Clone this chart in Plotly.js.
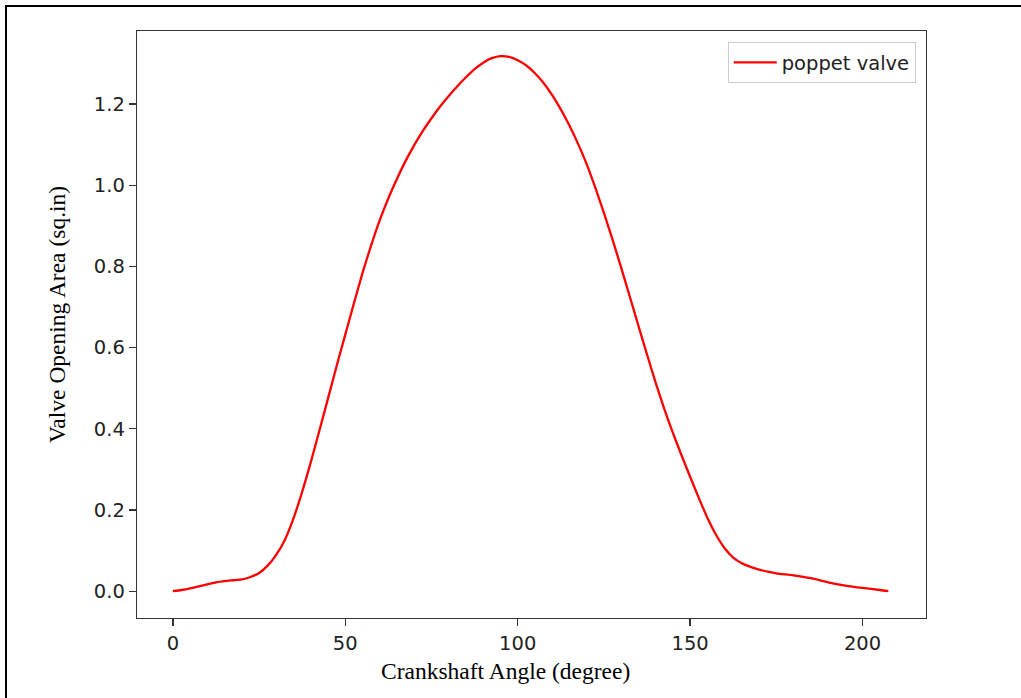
<!DOCTYPE html>
<html>
<head>
<meta charset="utf-8">
<script src="https://cdn.plot.ly/plotly-3.0.1.min.js"></script>
<style>
  html, body { margin: 0; padding: 0; background: #fff; overflow: hidden; }
  #frame { position: absolute; left: 5px; top: 5px; width: 2000px; height: 2000px; border: 2px solid #000; box-sizing: border-box; }
  #chart { position: absolute; left: 0; top: 0; width: 1021px; height: 698px; }
</style>
</head>
<body>
<div id="frame"></div>
<div id="chart"></div>
<script>
// Crankshaft angle (degree)
const crankAngle = [0, 2.5, 5, 7.5, 10, 12.5, 15, 17.5, 20, 22.5, 25, 27.5, 30, 32.5, 35, 37.5, 40, 42.5, 45, 47.5, 50, 52.5, 55, 57.5, 60, 62.5, 65, 67.5, 70, 72.5, 75, 77.5, 80, 82.5, 85, 87.5, 90, 92.5, 95, 97.5, 100, 102.5, 105, 107.5, 110, 112.5, 115, 117.5, 120, 122.5, 125, 127.5, 130, 132.5, 135, 137.5, 140, 142.5, 145, 147.5, 150, 152.5, 155, 157.5, 160, 162.5, 165, 167.5, 170, 172.5, 175, 180, 185, 190, 195, 200, 205, 207.5];
// Valve opening area (sq.in)
const valveArea = [0, 0.003, 0.007, 0.012, 0.017, 0.022, 0.025, 0.027, 0.029, 0.035, 0.045, 0.063, 0.090, 0.127, 0.180, 0.245, 0.318, 0.396, 0.475, 0.555, 0.632, 0.709, 0.784, 0.852, 0.914, 0.968, 1.016, 1.060, 1.099, 1.134, 1.165, 1.194, 1.220, 1.244, 1.266, 1.286, 1.302, 1.313, 1.318, 1.316, 1.308, 1.295, 1.276, 1.252, 1.222, 1.187, 1.147, 1.102, 1.052, 0.994, 0.932, 0.866, 0.797, 0.726, 0.654, 0.583, 0.514, 0.449, 0.390, 0.335, 0.282, 0.230, 0.181, 0.139, 0.106, 0.083, 0.069, 0.060, 0.053, 0.048, 0.044, 0.039, 0.032, 0.022, 0.014, 0.008, 0.003, 0.0];
const seriesName = "poppet valve";
const xTicks = [0, 50, 100, 150, 200];
const yTicks = [0.0, 0.2, 0.4, 0.6, 0.8, 1.0, 1.2];
const xTitle = "Crankshaft Angle (degree)";
const yTitle = "Valve Opening Area (sq.in)";

const tickFont = { family: "DejaVu Sans", size: 19.5, color: "#222" };
const titleFont = { family: "Liberation Serif", size: 23.5, color: "#000" };

const trace = {
  x: crankAngle,
  y: valveArea,
  type: "scatter",
  mode: "lines",
  name: seriesName,
  line: { color: "#ff0000", width: 2.3, shape: "spline", smoothing: 0.6 }
};

const axisCommon = {
  showgrid: false,
  zeroline: false,
  showline: true,
  linecolor: "#333",
  linewidth: 1.3,
  mirror: true,
  ticks: "outside",
  ticklen: 7,
  tickwidth: 1.3,
  tickcolor: "#333",
  tickfont: tickFont
};

const layout = {
  width: 1021,
  height: 698,
  margin: { l: 137, r: 95, t: 31, b: 80 },
  paper_bgcolor: "rgba(0,0,0,0)",
  plot_bgcolor: "#fff",
  showlegend: true,
  xaxis: Object.assign({}, axisCommon, {
    range: [-10.4, 218.4],
    tickmode: "array",
    tickvals: xTicks,
    ticktext: xTicks.map(v => String(v))
  }),
  yaxis: Object.assign({}, axisCommon, {
    range: [-0.066, 1.38],
    tickmode: "array",
    tickvals: yTicks,
    ticktext: yTicks.map(v => v.toFixed(1))
  }),
  legend: {
    x: 0.987, xanchor: "right",
    y: 0.981, yanchor: "top",
    bgcolor: "#fff",
    bordercolor: "#ccc",
    borderwidth: 1,
    itemwidth: 43,
    font: { family: "DejaVu Sans", size: 19.5, color: "#222" }
  },
  annotations: [
    { text: xTitle, xref: "paper", yref: "paper", x: (505 - 137) / 789, y: (618 - 671) / 587,
      xanchor: "center", yanchor: "middle", showarrow: false, font: titleFont },
    { text: yTitle, xref: "paper", yref: "paper", x: (57 - 137) / 789, y: (618 - 315) / 587,
      xanchor: "center", yanchor: "middle", showarrow: false, textangle: -90, font: titleFont }
  ]
};

Plotly.newPlot("chart", [trace], layout, { displayModeBar: false, staticPlot: true });
</script>
</body>
</html>
